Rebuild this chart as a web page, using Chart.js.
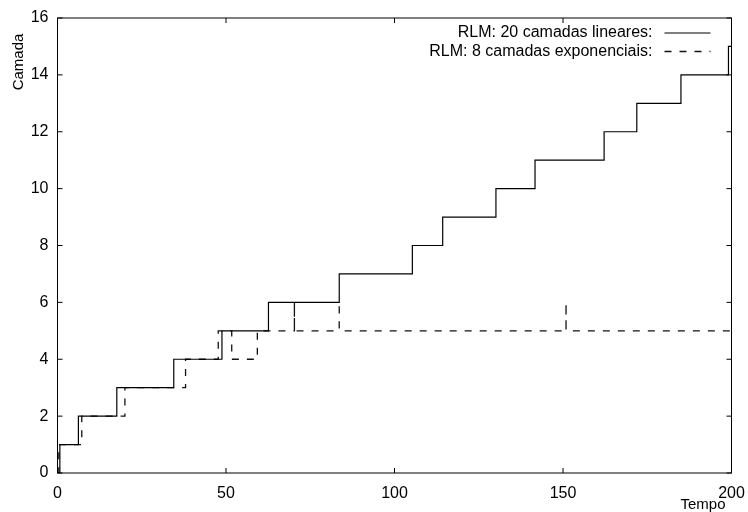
<!DOCTYPE html>
<html>
<head>
<meta charset="utf-8">
<script src="https://cdn.jsdelivr.net/npm/chart.js@4"></script>
<style>
  html, body { margin: 0; padding: 0; background: #fff; }
  #wrap { width: 748px; height: 512px; }
</style>
</head>
<body>
<div id="wrap"><canvas id="grafico" width="748" height="512"></canvas></div>
<script>
// RLM: 20 camadas lineares (instante da mudança e camada nova)
const tempoLinear = [0, 0.7, 6.2, 17.6, 34.5, 48.8, 62.6, 83.6, 105.3, 114.3, 130.1, 141.7, 162.2, 171.9, 185.0, 199.1, 200];
const camadaLinear = [0, 1, 2, 3, 4, 5, 6, 7, 8, 9, 10, 11, 12, 13, 14, 15, 15];

// RLM: 8 camadas exponenciais
const tempoExp = [0, 0.4, 7.2, 20.0, 38.0, 47.7, 51.7, 59.3, 70.3, 70.3, 83.6, 83.6, 150.9, 150.9, 200];
const camadaExp = [0, 1, 2, 3, 4, 5, 4, 5, 6, 5, 6, 5, 6, 5, 5];

const ticksX = [0, 50, 100, 150, 200];
const ticksY = [0, 2, 4, 6, 8, 10, 12, 14, 16];

const rotulos = ['RLM: 20 camadas lineares:', 'RLM: 8 camadas exponenciais:'];

const FONTE = "'Liberation Sans', Arial, sans-serif";

function pontos(tempos, valores) {
  return tempos.map((t, i) => ({ x: t, y: valores[i] }));
}

// Desenha moldura, marcas internas, legenda e títulos dos eixos (estilo gnuplot)
const estiloGnuplot = {
  id: 'estiloGnuplot',
  afterDatasetsDraw(chart) {
    const { ctx, chartArea: a, scales } = chart;
    ctx.save();
    ctx.strokeStyle = '#000';
    ctx.lineWidth = 1;
    ctx.setLineDash([]);
    ctx.strokeRect(a.left, a.top, a.right - a.left, a.bottom - a.top);

    const tam = 5;
    ctx.beginPath();
    ticksX.forEach(v => {
      const px = scales.x.getPixelForValue(v);
      ctx.moveTo(px, a.bottom); ctx.lineTo(px, a.bottom - tam);
      ctx.moveTo(px, a.top); ctx.lineTo(px, a.top + tam);
    });
    ticksY.forEach(v => {
      const py = scales.y.getPixelForValue(v);
      ctx.moveTo(a.left, py); ctx.lineTo(a.left + tam, py);
      ctx.moveTo(a.right, py); ctx.lineTo(a.right - tam, py);
    });
    ctx.stroke();

    // legenda
    ctx.font = '16px ' + FONTE;
    ctx.fillStyle = '#000';
    ctx.textAlign = 'right';
    ctx.textBaseline = 'middle';
    chart.data.datasets.forEach((ds, i) => {
      const y = a.top + 15 + i * 18.5;
      ctx.fillText(ds.label, a.right - 79, y);
      ctx.beginPath();
      ctx.strokeStyle = ds.borderColor;
      ctx.lineWidth = ds.borderWidth;
      ctx.setLineDash(ds.borderDash || []);
      ctx.moveTo(a.right - 67, y);
      ctx.lineTo(a.right - 21, y);
      ctx.stroke();
    });
    ctx.setLineDash([]);

    // títulos dos eixos
    ctx.font = '15px ' + FONTE;
    ctx.textAlign = 'center';
    ctx.fillText('Tempo', 703, 505);
    ctx.translate(19, 62);
    ctx.rotate(-Math.PI / 2);
    ctx.fillText('Camada', 0, 0);
    ctx.restore();
  }
};

new Chart(document.getElementById('grafico'), {
  type: 'line',
  data: {
    datasets: [
      {
        label: rotulos[0],
        data: pontos(tempoLinear, camadaLinear),
        stepped: 'before',
        borderColor: '#000',
        borderWidth: 1.2,
        pointRadius: 0,
        fill: false
      },
      {
        label: rotulos[1],
        data: pontos(tempoExp, camadaExp),
        stepped: 'before',
        borderColor: '#111',
        borderWidth: 1.3,
        borderDash: [7, 8],
        pointRadius: 0,
        fill: false
      }
    ]
  },
  options: {
    responsive: false,
    animation: false,
    events: [],
    layout: { padding: { top: 18, right: 16.5, left: 0, bottom: 0 } },
    plugins: {
      legend: { display: false },
      tooltip: { enabled: false }
    },
    scales: {
      x: {
        type: 'linear',
        min: 0,
        max: 200,
        afterBuildTicks: s => { s.ticks = ticksX.map(v => ({ value: v })); },
        afterFit: s => { s.height = 39; s.paddingLeft = 0; s.paddingRight = 0; },
        grid: { display: false, drawTicks: false },
        border: { display: false },
        ticks: { color: '#000', padding: 11, maxRotation: 0, font: { family: FONTE, size: 16 } }
      },
      y: {
        type: 'linear',
        min: 0,
        max: 16,
        afterBuildTicks: s => { s.ticks = ticksY.map(v => ({ value: v })); },
        afterFit: s => { s.width = 57.5; s.paddingTop = 0; s.paddingBottom = 0; },
        grid: { display: false, drawTicks: false },
        border: { display: false },
        ticks: { color: '#000', padding: 9, font: { family: FONTE, size: 16 } }
      }
    }
  },
  plugins: [estiloGnuplot]
});
</script>
</body>
</html>
